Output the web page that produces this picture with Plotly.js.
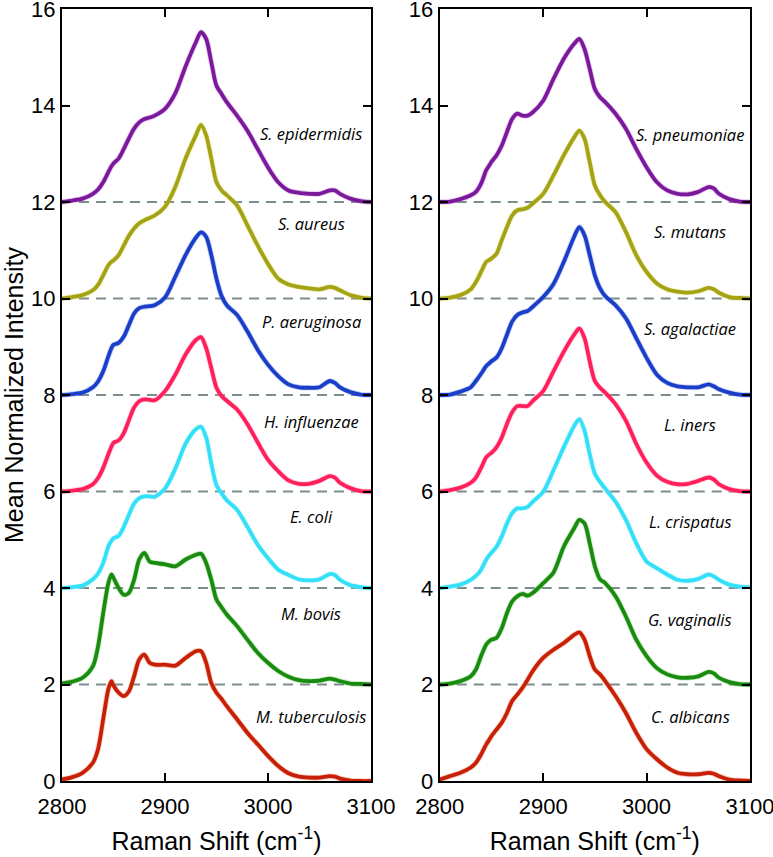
<!DOCTYPE html>
<html><head><meta charset="utf-8">
<script src="https://cdn.plot.ly/plotly-3.0.1.min.js"></script>
<style>html,body{margin:0;padding:0;background:#fff}#chart{width:773px;height:857px}</style>
</head><body><div id="chart"></div>
<script>
const shift = [2800,2810,2820,2830,2835,2840,2845,2848,2850,2855,2860,2865,2870,2875,2880,2885,2890,2900,2910,2920,2930,2935,2940,2945,2950,2955,2960,2970,2980,2990,3000,3010,3020,3030,3040,3050,3060,3065,3070,3080,3090,3100];

// Left panel (offset spectra)
const sEpidermidis = [12.0,12.03,12.07,12.17,12.26,12.41,12.62,12.74,12.8,12.9,13.1,13.32,13.52,13.65,13.72,13.75,13.79,13.93,14.25,14.81,15.31,15.52,15.38,14.9,14.41,14.24,14.07,13.79,13.48,13.1,12.72,12.41,12.24,12.19,12.17,12.17,12.24,12.24,12.17,12.07,12.02,12.0];
const sAureus = [10.0,10.03,10.07,10.17,10.28,10.48,10.69,10.76,10.79,10.9,11.1,11.3,11.45,11.56,11.62,11.67,11.72,11.9,12.31,12.9,13.38,13.6,13.38,12.9,12.41,12.24,12.14,11.93,11.52,11.1,10.72,10.41,10.29,10.24,10.21,10.19,10.24,10.22,10.17,10.07,10.02,10.0];
const pAeruginosa = [8.0,8.02,8.05,8.16,8.28,8.49,8.8,8.97,9.04,9.08,9.21,9.45,9.69,9.8,9.83,9.84,9.86,10.02,10.45,10.9,11.26,11.37,11.28,10.9,10.41,10.05,9.86,9.66,9.32,8.94,8.63,8.39,8.22,8.16,8.15,8.16,8.29,8.25,8.16,8.06,8.01,8.0];
const hInfluenzae = [6.0,6.02,6.05,6.15,6.28,6.49,6.77,6.93,7.01,7.06,7.21,7.48,7.74,7.87,7.91,7.9,7.89,8.08,8.42,8.84,9.14,9.2,8.97,8.56,8.15,7.98,7.88,7.7,7.4,7.02,6.66,6.42,6.23,6.16,6.16,6.22,6.32,6.29,6.18,6.07,6.01,6.0];
const eColi = [4.0,4.02,4.05,4.18,4.3,4.52,4.86,4.98,5.03,5.08,5.27,5.52,5.75,5.86,5.9,5.9,5.89,6.06,6.47,6.99,7.29,7.34,7.12,6.58,6.13,5.96,5.82,5.62,5.27,4.9,4.62,4.38,4.27,4.18,4.16,4.18,4.29,4.27,4.17,4.06,4.02,4.0];
const mBovis = [2.02,2.06,2.14,2.38,2.79,3.48,4.1,4.28,4.21,4.0,3.86,3.9,4.17,4.59,4.73,4.55,4.52,4.49,4.45,4.59,4.69,4.71,4.52,4.17,3.76,3.6,3.45,3.21,2.93,2.66,2.45,2.28,2.16,2.09,2.07,2.08,2.12,2.1,2.07,2.02,2.01,2.0];
const mTuberculosis = [0.03,0.08,0.17,0.38,0.66,1.28,1.9,2.07,1.98,1.83,1.76,1.86,2.17,2.52,2.62,2.45,2.41,2.41,2.39,2.55,2.69,2.69,2.45,2.03,1.83,1.7,1.55,1.28,1.0,0.76,0.52,0.31,0.16,0.09,0.07,0.07,0.1,0.09,0.05,0.01,0.0,0.0];

// Right panel (offset spectra)
const sPneumoniae = [12.0,12.01,12.06,12.14,12.21,12.38,12.66,12.76,12.83,12.97,13.17,13.45,13.72,13.83,13.79,13.79,13.86,14.1,14.55,14.97,15.28,15.38,15.17,14.76,14.34,14.17,14.07,13.83,13.52,13.1,12.72,12.41,12.24,12.17,12.16,12.21,12.31,12.28,12.17,12.06,12.01,12.0];
const sMutans = [10.0,10.02,10.07,10.19,10.34,10.55,10.76,10.8,10.83,10.93,11.21,11.48,11.72,11.83,11.85,11.88,11.97,12.17,12.55,12.97,13.34,13.48,13.31,12.83,12.34,12.14,12.0,11.79,11.38,10.9,10.55,10.31,10.19,10.14,10.12,10.15,10.22,10.19,10.12,10.03,10.01,10.0];
const sAgalactiae = [8.0,8.01,8.07,8.16,8.29,8.44,8.6,8.66,8.7,8.78,8.97,9.25,9.52,9.66,9.71,9.74,9.83,10.03,10.3,10.76,11.28,11.48,11.31,10.9,10.48,10.21,10.05,9.86,9.59,9.18,8.77,8.42,8.25,8.18,8.16,8.16,8.22,8.18,8.12,8.05,8.01,8.0];
const lIners = [6.0,6.03,6.08,6.18,6.29,6.49,6.71,6.77,6.8,6.92,7.12,7.4,7.64,7.77,7.77,7.77,7.88,8.08,8.49,8.9,9.25,9.38,9.18,8.7,8.29,8.15,8.05,7.81,7.47,6.99,6.6,6.33,6.2,6.15,6.16,6.22,6.29,6.25,6.15,6.05,6.01,6.0];
const lCrispatus = [4.0,4.03,4.07,4.17,4.25,4.38,4.59,4.68,4.73,4.86,5.07,5.34,5.55,5.65,5.65,5.68,5.79,5.99,6.44,6.92,7.36,7.5,7.26,6.78,6.37,6.2,6.06,5.79,5.41,4.93,4.55,4.41,4.28,4.17,4.15,4.19,4.28,4.24,4.17,4.07,4.03,4.02];
const gVaginalis = [2.0,2.02,2.07,2.17,2.31,2.59,2.83,2.9,2.93,2.97,3.17,3.48,3.72,3.83,3.88,3.84,3.9,4.1,4.32,4.86,5.24,5.41,5.34,4.93,4.45,4.18,4.1,3.83,3.41,2.93,2.59,2.34,2.21,2.15,2.14,2.17,2.26,2.23,2.14,2.05,2.01,2.0];
const cAlbicans = [0.03,0.1,0.17,0.28,0.38,0.55,0.76,0.86,0.93,1.07,1.21,1.41,1.66,1.79,1.93,2.1,2.28,2.55,2.72,2.86,3.03,3.08,2.93,2.59,2.31,2.21,2.07,1.76,1.41,1.0,0.66,0.45,0.28,0.17,0.14,0.14,0.17,0.15,0.1,0.03,0.01,0.0];

const leftNames = ["S. epidermidis","S. aureus","P. aeruginosa","H. influenzae","E. coli","M. bovis","M. tuberculosis"];
const rightNames = ["S. pneumoniae","S. mutans","S. agalactiae","L. iners","L. crispatus","G. vaginalis","C. albicans"];
const leftLabelY = [13.41,11.55,9.53,7.46,5.48,3.48,1.34];
const rightLabelY = [13.39,11.39,9.38,7.38,5.37,3.34,1.34];
const labelX = [3042];
const baselines = [2,4,6,8,10,12];

const lineColors = ["#7a1a9a","#a3a315","#1a3ec8","#ff1f5a","#33e0f8","#1a8a10","#c82008"];
const haloColors = ["#c060e0","#d0d040","#6080f0","#ff80a8","#90f0ff","#50c840","#e87040"];

const leftData = [sEpidermidis,sAureus,pAeruginosa,hInfluenzae,eColi,mBovis,mTuberculosis];
const rightData = [sPneumoniae,sMutans,sAgalactiae,lIners,lCrispatus,gVaginalis,cAlbicans];

const traces = [];
function addPanel(data, xa, ya){
  data.forEach((ys,i)=>{
    traces.push({x:shift,y:ys,xaxis:xa,yaxis:ya,mode:'lines',line:{color:haloColors[i],width:5.5,shape:'spline',smoothing:0.8},opacity:0.35,hoverinfo:'skip',showlegend:false});
    traces.push({x:shift,y:ys,xaxis:xa,yaxis:ya,mode:'lines',line:{color:lineColors[i],width:3.8,shape:'spline',smoothing:0.8},showlegend:false});
  });
}
addPanel(leftData,'x','y');
addPanel(rightData,'x2','y2');

const shapes = [];
baselines.forEach(b=>{
  [['x','y'],['x2','y2']].forEach(([xr,yr])=>{
    shapes.push({type:'line',xref:xr,yref:yr,x0:2800,x1:3100,y0:b,y1:b,line:{color:'#7d8c8c',width:2,dash:'10px,7px'},layer:'below'});
  });
});

const labelFont = {family:'Open Sans',size:16.5,color:'#000',style:'italic'};
const annotations = [];
leftNames.forEach((n,i)=>annotations.push({x:labelX[0],y:leftLabelY[i],xref:'x',yref:'y',text:n,showarrow:false,font:labelFont}));
rightNames.forEach((n,i)=>annotations.push({x:labelX[0],y:rightLabelY[i],xref:'x2',yref:'y2',text:n,showarrow:false,font:labelFont}));

const xbase = {range:[2800,3100],tickvals:[2800,2900,3000,3100],ticks:'inside',ticklen:8,tickwidth:2,tickcolor:'#000',showline:true,linecolor:'#000',linewidth:2,mirror:'ticks',showgrid:false,zeroline:false,ticklabeloverflow:'allow',ticklabelstandoff:5,tickfont:{family:'Liberation Sans, Arial',size:22,color:'#000'},title:{text:'Raman Shift (cm<sup>-1</sup>)',font:{family:'Liberation Sans, Arial',size:25,color:'#000'},standoff:14}};
const ybase = {range:[0,16],tickvals:[0,2,4,6,8,10,12,14,16],ticks:'inside',ticklen:8,tickwidth:2,tickcolor:'#000',showline:true,linecolor:'#000',linewidth:2,mirror:'ticks',showgrid:false,zeroline:false,ticklabeloverflow:'allow',tickfont:{family:'Liberation Sans, Arial',size:22,color:'#000'}};

const layout = {
  width:773,height:857,
  margin:{l:62,r:23,t:9,b:76},
  paper_bgcolor:'#fff',plot_bgcolor:'#fff',
  xaxis:Object.assign({},xbase,{domain:[0,0.449],anchor:'y'}),
  xaxis2:Object.assign({},xbase,{domain:[0.549,1],anchor:'y2'}),
  yaxis:Object.assign({},ybase,{anchor:'x',title:{text:'Mean Normalized Intensity',font:{family:'Liberation Sans, Arial',size:25,color:'#000'},standoff:4}}),
  yaxis2:Object.assign({},ybase,{anchor:'x2'}),
  shapes:shapes,
  annotations:annotations,
  showlegend:false
};
Plotly.newPlot('chart',traces,layout,{displayModeBar:false,staticPlot:true});
</script></body></html>
